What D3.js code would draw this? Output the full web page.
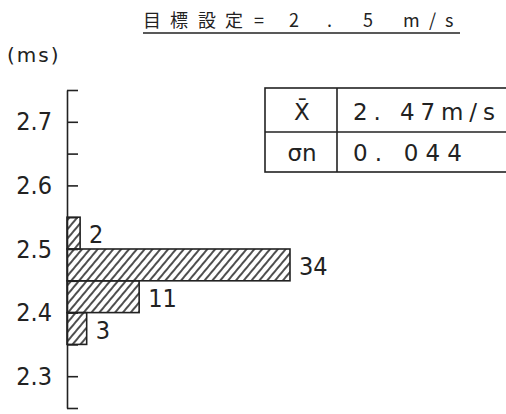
<!DOCTYPE html>
<html>
<head>
<meta charset="utf-8">
<script src="https://cdn.jsdelivr.net/npm/d3@7"></script>
<style>
  body { margin: 0; background: #fff; }
  text { fill: #222; }
</style>
</head>
<body>
<div id="vizcontainer"></div>
<script>
// histogram of measured speed, target 2.5 m/s
const binStart = [2.35, 2.40, 2.45, 2.50];
const counts = [3, 11, 34, 2];
const binWidth = 0.05;
const tickValues = [2.25, 2.30, 2.35, 2.40, 2.45, 2.50, 2.55, 2.60, 2.65, 2.70, 2.75];
const labelValues = [2.3, 2.4, 2.5, 2.6, 2.7];
const statNames = ['X\u0304', 'σn'];
const statValues = ['2. 47m/s', '0. 044'];
const title = '目標設定 = 2.5 m/s';
const unitLabel = '(ms)';

const width = 506,
  height = 414;
const narrowFont = '"Liberation Sans Narrow", "DejaVu Sans Condensed", sans-serif';
const wideFont = '"DejaVu Sans", sans-serif';

let viz = d3.select('#vizcontainer')
  .append('svg')
  .attr('width', width)
  .attr('height', height);

const defs = viz.append('defs');
defs.append('pattern')
  .attr('id', 'hatch')
  .attr('patternUnits', 'userSpaceOnUse')
  .attr('width', 6)
  .attr('height', 6)
  .attr('patternTransform', 'rotate(40)')
  .append('line')
  .attr('x1', 1).attr('y1', 0)
  .attr('x2', 1).attr('y2', 6)
  .attr('stroke', '#222')
  .attr('stroke-width', 1.6);

const y = d3.scaleLinear()
  .domain([2.25, 2.75])
  .range([408, 90]);

const x = d3.scaleLinear()
  .domain([0, 34])
  .range([67, 290]);

// title, glyphs spread out like the typed original
viz.append('text')
  .attr('x', '143 170 198 225 240 254 276 289 327 363 385 403 429 445')
  .attr('y', 27)
  .style('font-family', '"Noto Sans CJK JP", sans-serif')
  .style('font-size', '18px')
  .text(title);
viz.append('line')
  .attr('x1', 143).attr('x2', 460)
  .attr('y1', 33).attr('y2', 33)
  .attr('stroke', '#222')
  .attr('stroke-width', 1.5);

viz.append('text')
  .attr('x', 7)
  .attr('y', 62)
  .style('font-family', wideFont)
  .style('font-size', '20px')
  .style('letter-spacing', '2px')
  .text(unitLabel);

// bars
const data = binStart.map((b, i) => ({ b: b, n: counts[i] }));

viz.selectAll('rect.bar')
  .data(data)
  .join('rect')
  .attr('class', 'bar')
  .attr('x', x(0))
  .attr('y', d => y(d.b + binWidth))
  .attr('width', d => x(d.n) - x(0))
  .attr('height', d => y(d.b) - y(d.b + binWidth))
  .attr('fill', 'url(#hatch)')
  .attr('stroke', '#222')
  .attr('stroke-width', 1.6);

viz.selectAll('text.count')
  .data(data)
  .join('text')
  .attr('class', 'count')
  .attr('x', d => x(d.n) + 9)
  .attr('y', d => (y(d.b) + y(d.b + binWidth)) / 2 + 10)
  .style('font-family', narrowFont)
  .style('font-size', '25px')
  .text(d => d.n);

// axis
const axis = viz.append('g')
  .attr('transform', `translate(${x(0)},0)`)
  .call(d3.axisLeft(y)
    .tickValues(tickValues)
    .tickSizeInner(-11)
    .tickSizeOuter(0)
    .tickPadding(15)
    .tickFormat(d => labelValues.some(v => Math.abs(v - d) < 1e-6) ? d.toFixed(1) : ''));

axis.selectAll('line, path').attr('stroke', '#222').attr('stroke-width', 1.6);
axis.selectAll('text')
  .style('font-family', narrowFont)
  .style('font-size', '25px')
  .attr('fill', '#222');

// stats table
const tbl = viz.append('g');
tbl.append('rect')
  .attr('x', 265).attr('y', 88)
  .attr('width', 260).attr('height', 84)
  .attr('fill', 'none')
  .attr('stroke', '#222')
  .attr('stroke-width', 1.6);
tbl.append('line')
  .attr('x1', 265).attr('x2', 506)
  .attr('y1', 132).attr('y2', 132)
  .attr('stroke', '#222').attr('stroke-width', 1.6);
tbl.append('line')
  .attr('x1', 337).attr('x2', 337)
  .attr('y1', 88).attr('y2', 172)
  .attr('stroke', '#222').attr('stroke-width', 1.6);

tbl.selectAll('text.name')
  .data(statNames)
  .join('text')
  .attr('class', 'name')
  .attr('x', 302)
  .attr('y', (d, i) => 120 + i * 41)
  .attr('text-anchor', 'middle')
  .style('font-family', wideFont)
  .style('font-size', '23px')
  .text(d => d);

tbl.selectAll('text.val')
  .data(statValues)
  .join('text')
  .attr('class', 'val')
  .attr('x', 353)
  .attr('y', (d, i) => 120 + i * 41)
  .attr('textLength', (d, i) => i === 0 ? 142 : 109)
  .attr('lengthAdjust', 'spacing')
  .style('font-family', wideFont)
  .style('font-size', '23px')
  .text(d => d);
</script>
</body>
</html>
